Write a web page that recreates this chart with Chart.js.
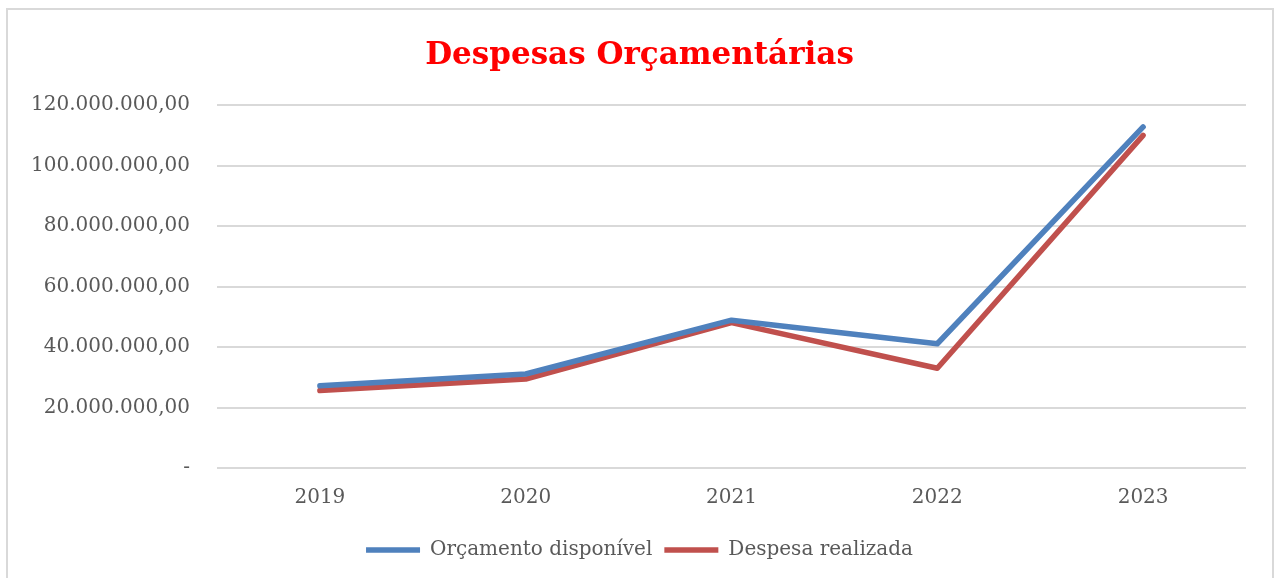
<!DOCTYPE html>
<html>
<head>
<meta charset="utf-8">
<script src="https://cdn.jsdelivr.net/npm/chart.js@4.4.1/dist/chart.umd.min.js"></script>
<style>
  html, body { margin: 0; padding: 0; background: #fff; overflow: hidden; }
  /* light frame of the original chart object; its bottom edge falls off the page */
  #frame {
    position: absolute; left: 6px; top: 8px; width: 1268px; height: 620px;
    border: 2px solid #d9d9d9; box-sizing: border-box;
  }
  #wrap { position: absolute; left: 0; top: 0; width: 1279px; height: 578px; }
</style>
</head>
<body>
<div id="frame"></div>
<div id="wrap"><canvas id="chart" width="1279" height="578"></canvas></div>
<script>
// Years on the x axis
const years = ["2019", "2020", "2021", "2022", "2023"];
// Values, in reais
const orcamentoDisponivel = [27200000, 31100000, 48900000, 41100000, 112800000];
const despesaRealizada = [25600000, 29400000, 48100000, 33000000, 110000000];
// Y axis ticks
const yTicks = [0, 20000000, 40000000, 60000000, 80000000, 100000000, 120000000];

const TEXT = "#595959";
const GRID = "#d9d9d9";
const SERIF = "'DejaVu Serif', 'Liberation Serif', serif";

// Brazilian number format: 120.000.000,00 ; zero shows as "-"
function brl(v) {
  if (v === 0) return "-";
  const int = Math.round(v).toString().replace(/\B(?=(\d{3})+(?!\d))/g, ".");
  return int + ",00";
}

new Chart(document.getElementById("chart"), {
  type: "line",
  data: {
    labels: years,
    datasets: [
      {
        label: "Orçamento disponível",
        data: orcamentoDisponivel,
        borderColor: "#4f81bd",
        backgroundColor: "#4f81bd",
        borderWidth: 5.5,
        borderCapStyle: "round",
        borderJoinStyle: "round",
        pointRadius: 0,
        tension: 0,
      },
      {
        label: "Despesa realizada",
        data: despesaRealizada,
        borderColor: "#c0504d",
        backgroundColor: "#c0504d",
        borderWidth: 5.5,
        borderCapStyle: "round",
        borderJoinStyle: "round",
        pointRadius: 0,
        tension: 0,
      },
    ],
  },
  options: {
    responsive: false,
    animation: false,
    layout: { padding: { left: 0, right: 0, top: 0, bottom: 8 } },
    plugins: {
      title: {
        display: true,
        text: "Despesas Orçamentárias",
        color: "#ff0000",
        font: { family: SERIF, size: 31, weight: "bold" },
        padding: { top: 37, bottom: 31 },
      },
      legend: {
        position: "bottom",
        labels: {
          color: TEXT,
          font: { family: SERIF, size: 20 },
          usePointStyle: true,
          pointStyle: "line",
          pointStyleWidth: 54,
          padding: 12,
        },
      },
      tooltip: { enabled: false },
    },
    scales: {
      x: {
        offset: true,
        grid: { display: false, drawTicks: false },
        border: { display: false },
        ticks: { color: TEXT, font: { family: SERIF, size: 20 }, padding: 18, maxRotation: 0 },
      },
      y: {
        min: 0,
        max: 120000000,
        afterBuildTicks: (axis) => { axis.ticks = yTicks.map((v) => ({ value: v })); },
        afterFit: (axis) => { axis.width = 217; }, // plot area starts at x=217
        grid: { color: GRID, lineWidth: 2, drawTicks: false },
        border: { display: false },
        ticks: { color: TEXT, font: { family: SERIF, size: 20 }, padding: 27, callback: brl },
      },
      // empty right-hand axis: reserves the right margin so the title stays centred on the page
      yRight: {
        position: "right",
        afterFit: (axis) => { axis.width = 33; },
        grid: { display: false, drawTicks: false },
        border: { display: false },
        ticks: { display: false },
      },
    },
  },
});
</script>
</body>
</html>
